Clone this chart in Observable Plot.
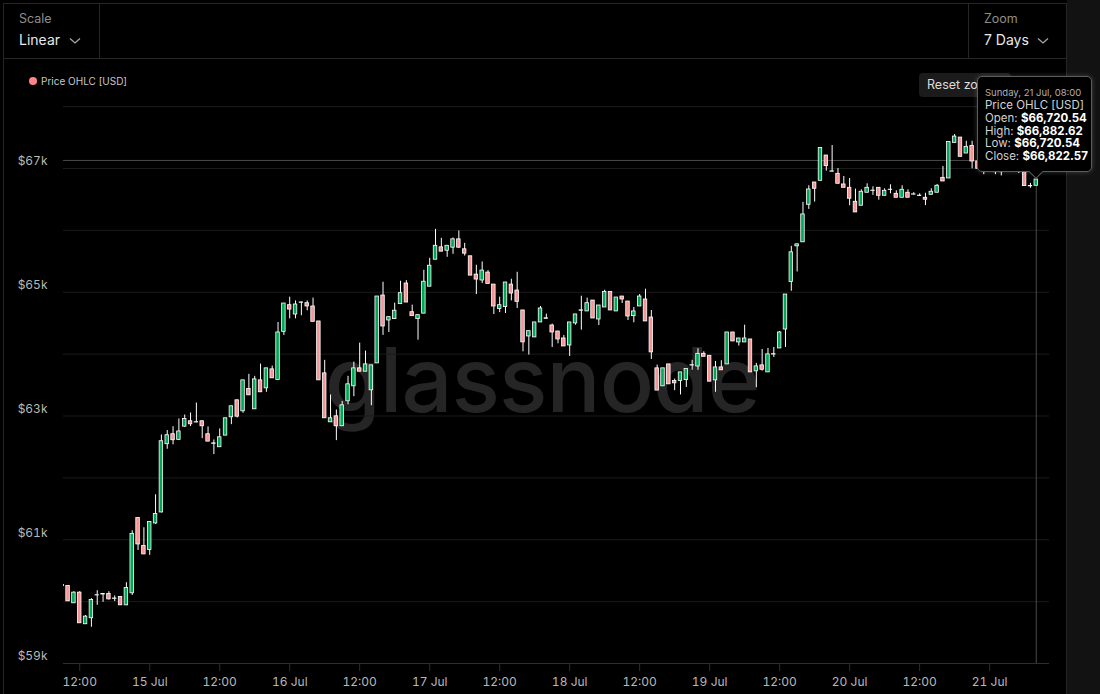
<!DOCTYPE html>
<html>
<head>
<meta charset="utf-8">
<script src="https://cdn.jsdelivr.net/npm/d3@7"></script>
<script src="https://cdn.jsdelivr.net/npm/@observablehq/plot@0.6"></script>
<style>
  html, body { margin:0; padding:0; background:#000; }
  body { width:1100px; height:694px; overflow:hidden; position:relative; font-family: Inter, "Noto Sans", sans-serif; }
  .abs { position:absolute; }
  .line { position:absolute; background:#262626; }
  #wm { position:absolute; left:325px; top:335px; font-size:90px; font-weight:500; color:#252525; letter-spacing:-1px; line-height:1; z-index:0; }
  #chart { position:absolute; left:0; top:0; z-index:1; }
  #tip { position:absolute; left:977px; top:76px; width:115px; height:96px; background:#000; border:1px solid #5c5c5c; border-radius:5px; box-shadow:0 0 5px rgba(255,255,255,0.22); z-index:5; box-sizing:border-box; padding:9px 0 0 7px; }
  #tip .t0 { font-size:9.5px; color:#b0b0b0; line-height:13px; }
  #tip .tl { font-size:11.5px; color:#d2d2d2; line-height:12.8px; white-space:nowrap; }
  #tip b { color:#fff; font-weight:700; }
  #arrow { position:absolute; left:1031px; top:167px; width:9px; height:9px; background:#000; border-right:1px solid #5c5c5c; border-bottom:1px solid #5c5c5c; transform:rotate(45deg); z-index:6; }
</style>
</head>
<body>
<div id="wm">glassnode</div>
<div id="chart"></div>

<!-- frame / header -->
<div class="line" style="left:3px;top:3px;width:1064px;height:1px"></div>
<div class="line" style="left:3px;top:3px;width:1px;height:691px"></div>
<div class="line" style="left:1066px;top:3px;width:1px;height:691px"></div>
<div class="abs" style="left:1067px;top:0;width:33px;height:694px;background:#121212"></div>
<div class="line" style="left:99px;top:3px;width:1px;height:55px"></div>
<div class="line" style="left:968px;top:3px;width:1px;height:55px"></div>
<div class="line" style="left:3px;top:58px;width:1064px;height:1px"></div>

<div class="abs" style="left:19px;top:11px;font-size:12.5px;color:#8e8e8e">Scale</div>
<div class="abs" style="left:19px;top:31px;font-size:14px;color:#e8e8e8">Linear</div>
<svg class="abs" style="left:69px;top:37px" width="12" height="8"><polyline points="1,1.5 6,6 11,1.5" fill="none" stroke="#aaa" stroke-width="1.2"/></svg>
<div class="abs" style="left:984px;top:11px;font-size:12.5px;color:#8e8e8e">Zoom</div>
<div class="abs" style="left:984px;top:31px;font-size:14px;color:#e8e8e8">7 Days</div>
<svg class="abs" style="left:1037px;top:37px" width="12" height="8"><polyline points="1,1.5 6,6 11,1.5" fill="none" stroke="#aaa" stroke-width="1.2"/></svg>

<!-- legend -->
<svg class="abs" style="left:28px;top:76px" width="10" height="10"><circle cx="5" cy="5" r="4" fill="#ff8484"/></svg>
<div class="abs" style="left:41px;top:75px;font-size:10px;color:#c8c8c8">Price OHLC [USD]</div>

<!-- reset zoom -->
<div class="abs" style="left:919px;top:73px;width:92px;height:24px;background:#1b1b1b;border-radius:4px;z-index:2;font-size:12.5px;color:#dcdcdc;line-height:24px;padding-left:8px;box-sizing:border-box">Reset zoom</div>

<!-- tooltip -->
<div id="tip">
  <div class="t0">Sunday, 21 Jul, 08:00</div>
  <div class="tl">Price OHLC [USD]</div>
  <div class="tl">Open: <b>$66,720.54</b></div>
  <div class="tl">High: <b>$66,882.62</b></div>
  <div class="tl">Low: <b>$66,720.54</b></div>
  <div class="tl">Close: <b>$66,822.57</b></div>
</div>
<div id="arrow"></div>

<script>
// Hourly candles starting 14 Jul 2024 09:00 UTC
const startTime = Date.UTC(2024, 6, 14, 9);

const open = [
60250,
60253,59973,60145,59634,59731,60100,60123,60123,60045,60075,
59940,60134,61350,60899,60834,61263,61441,62544,62705,62614,
62828,62915,62895,62915,62705,62550,62495,62683,62979,63254,
63076,63436,63108,63576,63447,63754,63581,64360,64791,64640,
64830,64823,64770,64528,63689,62898,62995,62834,63237,63480,
63770,63716,63415,63850,64947,64544,64566,64808,65141,64678,
64566,64654,65090,65526,65726,65671,65720,65855,65694,65581,
65285,65190,65318,65124,64728,64760,65124,65028,64706,64286,
64270,64512,64570,64463,64366,64253,64140,64496,64700,64690,
64866,64560,64754,65006,64690,64931,64850,64614,64770,64883,
64592,63770,63480,63834,63565,63565,63580,63815,63800,64005,
63973,63576,63785,63834,64350,64189,64189,64237,63721,63818,
63705,63993,64092,64398,65167,65742,65807,66414,66774,66801,
67210,66948,66914,66742,66688,66462,66398,66608,66638,66688,
66559,66654,66591,66527,66608,66578,66562,66527,66575,66608,
66849,66839,67414,67500,67242,67366,67113,66990,67050,67010,
66940,66990,67060,66980,66968,66712,66720.54
];
const high = [
60290,
60260,60161,60161,59774,60048,60177,60128,60161,60092,60080,
60306,61145,61355,61194,61290,61726,62694,62765,62828,62952,
63016,63049,63210,62920,62823,62613,62791,62963,63157,63254,
63576,63673,63641,63839,63770,63807,64512,64818,64920,64860,
64840,64860,64905,64528,63900,63340,63097,63236,63641,63871,
64178,64049,63818,64931,65162,64600,64824,65178,65188,64792,
64630,65355,65548,66017,65871,65751,65876,65990,65790,65581,
65436,65490,65350,65124,64920,65160,65210,65323,64706,64371,
64512,64770,64646,64484,64366,64302,64512,64641,64936,64904,
64866,64786,65033,65006,64915,64931,64850,64754,64964,65049,
64705,63823,63770,63834,63597,63705,63758,63900,64087,64038,
63973,63882,63893,64350,64350,64253,64468,64237,63850,64076,
64092,64108,64367,64963,65742,65780,66452,66721,66774,67333,
67210,67371,67000,66871,66839,66667,66656,66753,66704,66688,
66672,66737,66640,66721,66656,66610,66590,66600,66672,66742,
67032,67430,67548,67500,67440,67440,67113,67080,67120,67060,
67030,67100,67110,67040,66990,66760,66882.62
];
const low = [
60240,
60000,59970,59650,59630,59586,59940,59989,60027,60000,59940,
59935,60100,60827,60763,60747,61250,61435,62463,62533,62610,
62818,62828,62890,62634,62586,62376,62495,62683,62860,62968,
63044,63334,63108,63383,63383,63609,63581,64302,64570,64570,
64620,64700,64522,63576,62963,62898,62602,62834,63182,63312,
63716,63716,63166,63850,64302,64350,64566,64808,64834,64614,
64226,64654,65090,65526,65656,65565,65613,65710,65585,65269,
64963,65140,65135,64640,64670,64657,64860,64738,64037,63984,
64270,64512,64570,64108,64167,64124,63963,64468,64387,64690,
64576,64463,64754,64706,64690,64818,64544,64506,64770,64528,
63914,63411,63480,63512,63410,63340,63462,63738,63738,63957,
63555,63383,63738,63834,64205,64130,64189,63705,63457,63725,
63705,63946,64092,64108,65016,65327,65807,66339,66457,66801,
66957,66948,66753,66688,66398,66290,66398,66608,66565,66488,
66559,66591,66527,66527,66527,66570,66550,66400,66575,66608,
66790,66839,67414,67189,67242,66995,66995,66900,66980,66900,
66880,66950,66960,66920,66715,66680,66720.54
];
const close = [
60270,
60005,60145,59650,59758,60027,60104,60115,60036,60050,59940,
60221,61092,60924,60763,61286,61415,62592,62689,62608,62750,
62952,62866,62900,62834,62586,62558,62656,62963,63157,62989,
63576,63334,63592,63383,63770,63609,64350,64818,64720,64802,
64836,64770,64522,63576,62963,62963,62834,63173,63512,63770,
63716,63834,63818,64931,64447,64598,64702,64985,64834,64614,
64630,65170,65429,65751,65656,65751,65855,65720,65624,65269,
65205,65350,65135,64770,64791,65157,64979,64845,64190,64371,
64512,64738,64580,64350,64237,64124,64512,64641,64708,64823,
64576,64786,65006,64706,64915,64883,64608,64690,64931,64528,
64028,63411,63770,63512,63528,63705,63758,63821,64005,63957,
63555,63785,63738,64350,64205,64253,64253,63705,63802,63747,
63996,63999,64350,64963,65646,65774,66258,66661,66672,67333,
67038,66954,66753,66688,66511,66290,66624,66688,66642,66559,
66640,66658,66527,66656,66527,66582,66556,66495,66624,66721,
66790,67430,67516,67189,67350,67113,66995,67050,67010,66940,
66990,67060,66980,66970,66715,66716,66822.57
];

const yTicks = [59000, 61000, 63000, 65000, 67000];
const gridValues = [60000, 61000, 62000, 63000, 64000, 65000, 66000, 67000, 68000];
const xTicks = d3.utcHour.every(12).range(new Date(Date.UTC(2024,6,14,12)), new Date(Date.UTC(2024,6,21,1)));
const crosshairPrice = 67130;
const hoverDate = new Date(Date.UTC(2024, 6, 21, 8));

const green = "#00a856";
const pink = "#f59494";

const data = open.map((o, i) => ({
  date: new Date(startTime + i * 3600e3),
  open: o, high: high[i], low: low[i], close: close[i]
}));

const fmtTick = d => d.getUTCHours() === 0 ? d3.utcFormat("%-d %b")(d) : d3.utcFormat("%H:%M")(d);
const halfW = 18 * 60e3;

const chart = Plot.plot({
  width: 1100,
  height: 694,
  marginLeft: 63,
  marginRight: 51,
  marginTop: 100,
  marginBottom: 31,
  style: { background: "transparent", color: "#b8b8b8", fontFamily: "Inter, sans-serif", fontSize: "12px" },
  x: { type: "utc", domain: [new Date(Date.UTC(2024,6,14,9,13)), new Date(Date.UTC(2024,6,21,10,16))], label: null },
  y: { domain: [59000, 68099], label: null },
  marks: [
    Plot.ruleY(gridValues, { stroke: "#1b1b1b" }),
    Plot.ruleY([59000], { stroke: "#2e2e2e" }),
    Plot.axisX({ ticks: xTicks, tickFormat: fmtTick, tickSize: 8, tickPadding: 6, stroke: "#2e2e2e", fill: "#b8b8b8", label: null }),
    Plot.axisY({ ticks: yTicks, tickSize: 0, tickPadding: 16, dy: -7, tickFormat: d => "$" + d / 1000 + "k", fill: "#b8b8b8", label: null }),
    Plot.ruleY([crosshairPrice], { stroke: "#4a4a4a" }),
    Plot.ruleX([hoverDate], { stroke: "#4a4a4a" }),
    Plot.ruleX(data, { x: "date", y1: "low", y2: "high", stroke: "#ffffff", strokeWidth: 1, clip: true }),
    Plot.rect(data, {
      x1: d => new Date(+d.date - halfW),
      x2: d => new Date(+d.date + halfW),
      y1: "open", y2: "close",
      fill: d => d.close >= d.open ? green : pink,
      stroke: "#ffffff", strokeWidth: 0.8, clip: true
    })
  ]
});
document.getElementById("chart").appendChild(chart);
</script>
</body>
</html>
